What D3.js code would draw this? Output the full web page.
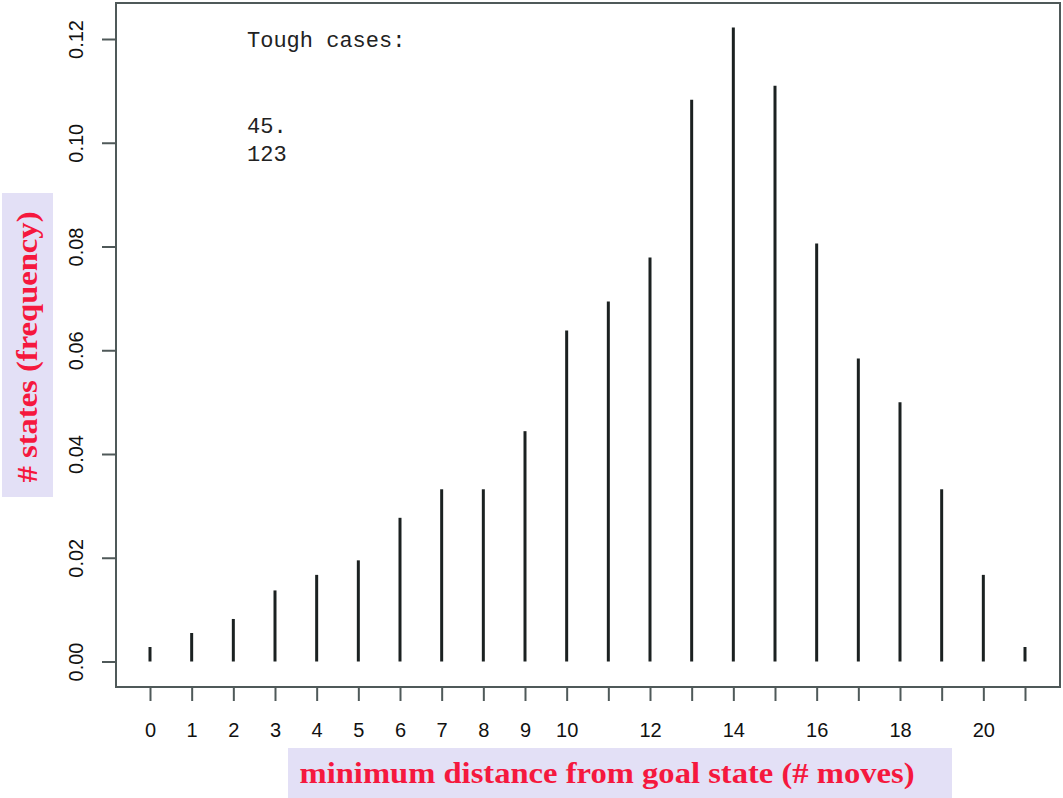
<!DOCTYPE html>
<html><head><meta charset="utf-8">
<script src="https://cdn.jsdelivr.net/npm/d3@7"></script>
<style>html,body{margin:0;padding:0;background:#fff;}svg{display:block;}</style>
</head><body>
<svg id="c" width="1063" height="798"></svg>
<script>
const moves = [0,1,2,3,4,5,6,7,8,9,10,11,12,13,14,15,16,17,18,19,20,21];
const freq = [0.0028,0.0055,0.0082,0.0137,0.0167,0.0195,0.0277,0.0332,0.0332,0.0444,0.0638,0.0694,0.0779,0.1083,0.1222,0.1110,0.0806,0.0584,0.0500,0.0332,0.0167,0.0028];
const xTickLabels = [0,1,2,3,4,5,6,7,8,9,10,12,14,16,18,20];
const yTicks = [0.00,0.02,0.04,0.06,0.08,0.10,0.12];
const noteLines = ["Tough cases:","","","45.","123"];
const xTitle = "minimum distance from goal state (# moves)";
const yTitle = "# states (frequency)";

const svg = d3.select("#c");
const box = {l:116, r:1060, t:3, b:687};
const x = d3.scaleLinear().domain([0,21]).range([150,1025]);
const y = d3.scaleLinear().domain([0,0.12]).range([661.5,39]);
const frameCol = "#4f5959";

// plot frame
svg.append("rect").attr("x",box.l).attr("y",box.t).attr("width",box.r-box.l).attr("height",box.b-box.t)
  .attr("fill","none").attr("stroke",frameCol).attr("stroke-width",2);

// bars (type="h")
svg.append("g").selectAll("line").data(moves).join("line")
  .attr("x1",d=>x(d)).attr("x2",d=>x(d))
  .attr("y1",y(0)).attr("y2",(d,i)=>y(freq[i]))
  .attr("stroke","#1b2121").attr("stroke-width",3);

// y axis
const yAxis = d3.axisLeft(y).tickValues(yTicks).tickSize(14).tickPadding(0).tickFormat(d3.format(".2f"));
const gy = svg.append("g").attr("transform",`translate(${box.l},0)`).call(yAxis);
gy.select(".domain").remove();
gy.selectAll(".tick line").attr("stroke",frameCol).attr("stroke-width",2);
gy.selectAll(".tick text").attr("transform","translate(-33,0) rotate(-90)").attr("text-anchor","middle").attr("dy","0")
  .attr("x",0).attr("y",0)
  .style("font-family","'Liberation Sans', Arial, sans-serif").style("font-size","20px").attr("fill","#111");

// x axis
const xAxis = d3.axisBottom(x).tickValues(moves).tickSize(14).tickPadding(0)
  .tickFormat(d=>xTickLabels.includes(d)?String(d):"");
const gx = svg.append("g").attr("transform",`translate(0,${box.b})`).call(xAxis);
gx.select(".domain").remove();
gx.selectAll(".tick line").attr("stroke",frameCol).attr("stroke-width",2);
gx.selectAll(".tick text").attr("y",50).attr("dy","0")
  .style("font-family","'Liberation Sans', Arial, sans-serif").style("font-size","20px").attr("fill","#111");

// note text
const note = svg.append("g").style("font-family","'Liberation Mono', 'Courier New', monospace").style("font-size","22px").attr("fill","#222");
noteLines.forEach((t,i)=>{ if(t) note.append("text").attr("x",247).attr("y",47+i*28.5).text(t); });

// y title box
svg.append("rect").attr("x",2).attr("y",193).attr("width",51).attr("height",304).attr("fill","#e3e0f6");
svg.append("text").attr("transform","translate(37,347) rotate(-90)").attr("text-anchor","middle")
  .attr("textLength",271).attr("lengthAdjust","spacingAndGlyphs")
  .style("font-family","'Liberation Serif', 'DejaVu Serif', serif").style("font-weight","bold").style("font-size","29px")
  .attr("fill","#f5183e").text(yTitle);

// x title box
svg.append("rect").attr("x",288).attr("y",748).attr("width",664).attr("height",50).attr("fill","#e3e0f6");
svg.append("text").attr("x",607).attr("y",783).attr("text-anchor","middle")
  .attr("textLength",615).attr("lengthAdjust","spacingAndGlyphs")
  .style("font-family","'Liberation Serif', 'DejaVu Serif', serif").style("font-weight","bold").style("font-size","29px")
  .attr("fill","#f5183e").text(xTitle);
</script>
</body></html>
